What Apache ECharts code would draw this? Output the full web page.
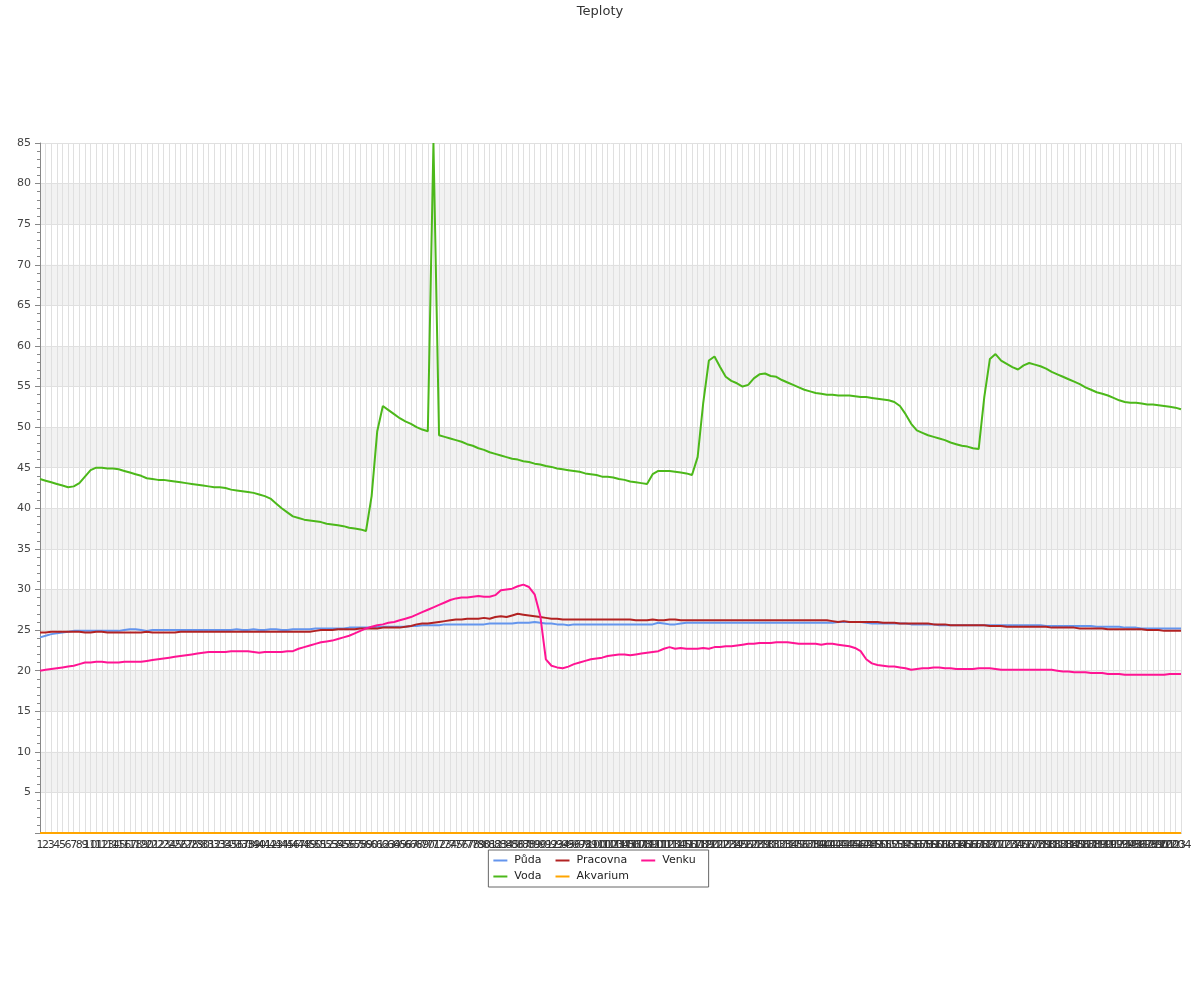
<!DOCTYPE html>
<html>
<head>
<meta charset="utf-8">
<script src="https://cdn.jsdelivr.net/npm/echarts@6/dist/echarts.min.js"></script>
<style>html,body{margin:0;padding:0;background:#fff}#c{width:1200px;height:1000px}</style>
</head>
<body>
<div id="c"></div>
<script>
// x categories 1..204
const categories = [];
for (let i = 1; i <= 204; i++) categories.push(String(i));

const seriesNames = ['Půda', 'Pracovna', 'Venku', 'Voda', 'Akvarium'];

const puda = [
24.1,24.3,24.5,24.6,24.7,24.8,24.9,24.9,24.9,24.9,
24.9,24.9,24.9,24.9,24.9,25.0,25.1,25.1,25.0,24.9,
25.0,25.0,25.0,25.0,25.0,25.0,25.0,25.0,25.0,25.0,
25.0,25.0,25.0,25.0,25.0,25.1,25.0,25.0,25.1,25.0,
25.0,25.1,25.1,25.0,25.0,25.1,25.1,25.1,25.1,25.2,
25.2,25.2,25.2,25.2,25.2,25.3,25.3,25.3,25.3,25.3,
25.4,25.4,25.4,25.4,25.4,25.4,25.5,25.5,25.6,25.6,
25.6,25.6,25.7,25.7,25.7,25.7,25.7,25.7,25.7,25.7,
25.8,25.8,25.8,25.8,25.8,25.9,25.9,25.9,26.0,25.9,
25.8,25.8,25.7,25.7,25.6,25.7,25.7,25.7,25.7,25.7,
25.7,25.7,25.7,25.7,25.7,25.7,25.7,25.7,25.7,25.7,
25.9,25.8,25.7,25.7,25.8,25.9,25.9,25.9,25.9,25.9,
25.9,25.9,25.9,25.9,25.9,25.9,25.9,25.9,25.9,25.9,
25.9,25.9,25.9,25.9,25.9,25.9,25.9,25.9,25.9,25.9,
25.9,25.9,26.0,26.0,26.0,26.0,26.0,25.9,25.8,25.8,
25.8,25.8,25.8,25.8,25.8,25.7,25.7,25.7,25.7,25.7,
25.6,25.6,25.6,25.6,25.6,25.6,25.6,25.6,25.6,25.6,
25.6,25.6,25.6,25.6,25.6,25.6,25.6,25.6,25.6,25.5,
25.5,25.5,25.5,25.5,25.5,25.5,25.5,25.5,25.4,25.4,
25.4,25.4,25.4,25.3,25.3,25.3,25.2,25.2,25.2,25.2,
25.2,25.2,25.2,25.2
];

const pracovna = [
24.7,24.7,24.8,24.8,24.8,24.8,24.8,24.8,24.7,24.7,
24.8,24.8,24.7,24.7,24.7,24.7,24.7,24.7,24.7,24.8,
24.7,24.7,24.7,24.7,24.7,24.8,24.8,24.8,24.8,24.8,
24.8,24.8,24.8,24.8,24.8,24.8,24.8,24.8,24.8,24.8,
24.8,24.8,24.8,24.8,24.8,24.8,24.8,24.8,24.8,24.9,
25.0,25.0,25.0,25.1,25.1,25.1,25.1,25.2,25.2,25.2,
25.2,25.3,25.3,25.3,25.3,25.4,25.5,25.7,25.8,25.8,
25.9,26.0,26.1,26.2,26.3,26.3,26.4,26.4,26.4,26.5,
26.4,26.6,26.7,26.6,26.8,27.0,26.9,26.8,26.7,26.6,
26.5,26.4,26.4,26.3,26.3,26.3,26.3,26.3,26.3,26.3,
26.3,26.3,26.3,26.3,26.3,26.3,26.2,26.2,26.2,26.3,
26.2,26.2,26.3,26.3,26.2,26.2,26.2,26.2,26.2,26.2,
26.2,26.2,26.2,26.2,26.2,26.2,26.2,26.2,26.2,26.2,
26.2,26.2,26.2,26.2,26.2,26.2,26.2,26.2,26.2,26.2,
26.2,26.1,26.0,26.1,26.0,26.0,26.0,26.0,26.0,26.0,
25.9,25.9,25.9,25.8,25.8,25.8,25.8,25.8,25.8,25.7,
25.7,25.7,25.6,25.6,25.6,25.6,25.6,25.6,25.6,25.5,
25.5,25.5,25.4,25.4,25.4,25.4,25.4,25.4,25.4,25.4,
25.3,25.3,25.3,25.3,25.3,25.2,25.2,25.2,25.2,25.2,
25.1,25.1,25.1,25.1,25.1,25.1,25.1,25.0,25.0,25.0,
24.9,24.9,24.9,24.9
];

const venku = [
20.0,20.1,20.2,20.3,20.4,20.5,20.6,20.8,21.0,21.0,
21.1,21.1,21.0,21.0,21.0,21.1,21.1,21.1,21.1,21.2,
21.3,21.4,21.5,21.6,21.7,21.8,21.9,22.0,22.1,22.2,
22.3,22.3,22.3,22.3,22.4,22.4,22.4,22.4,22.3,22.2,
22.3,22.3,22.3,22.3,22.4,22.4,22.7,22.9,23.1,23.3,
23.5,23.6,23.7,23.9,24.1,24.3,24.6,24.9,25.2,25.4,
25.6,25.7,25.9,26.0,26.2,26.4,26.6,26.9,27.2,27.5,
27.8,28.1,28.4,28.7,28.9,29.0,29.0,29.1,29.2,29.1,
29.1,29.3,29.9,30.0,30.1,30.4,30.6,30.3,29.4,26.8,
21.4,20.6,20.4,20.3,20.5,20.8,21.0,21.2,21.4,21.5,
21.6,21.8,21.9,22.0,22.0,21.9,22.0,22.1,22.2,22.3,
22.4,22.7,22.9,22.7,22.8,22.7,22.7,22.7,22.8,22.7,
22.9,22.9,23.0,23.0,23.1,23.2,23.3,23.3,23.4,23.4,
23.4,23.5,23.5,23.5,23.4,23.3,23.3,23.3,23.3,23.2,
23.3,23.3,23.2,23.1,23.0,22.8,22.4,21.4,20.9,20.7,
20.6,20.5,20.5,20.4,20.3,20.1,20.2,20.3,20.3,20.4,
20.4,20.3,20.3,20.2,20.2,20.2,20.2,20.3,20.3,20.3,
20.2,20.1,20.1,20.1,20.1,20.1,20.1,20.1,20.1,20.1,
20.1,20.0,19.9,19.9,19.8,19.8,19.8,19.7,19.7,19.7,
19.6,19.6,19.6,19.5,19.5,19.5,19.5,19.5,19.5,19.5,
19.5,19.6,19.6,19.6
];

const voda = [
43.6,43.4,43.2,43.0,42.8,42.6,42.7,43.1,43.9,44.7,
45.0,45.0,44.9,44.9,44.8,44.6,44.4,44.2,44.0,43.7,
43.6,43.5,43.5,43.4,43.3,43.2,43.1,43.0,42.9,42.8,
42.7,42.6,42.6,42.5,42.3,42.2,42.1,42.0,41.9,41.7,
41.5,41.2,40.6,40.0,39.5,39.0,38.8,38.6,38.5,38.4,
38.3,38.1,38.0,37.9,37.8,37.6,37.5,37.4,37.2,41.5,
49.5,52.6,52.1,51.6,51.1,50.7,50.4,50.0,49.7,49.5,
85.0,49.0,48.8,48.6,48.4,48.2,47.9,47.7,47.4,47.2,
46.9,46.7,46.5,46.3,46.1,46.0,45.8,45.7,45.5,45.4,
45.2,45.1,44.9,44.8,44.7,44.6,44.5,44.3,44.2,44.1,
43.9,43.9,43.8,43.6,43.5,43.3,43.2,43.1,43.0,44.2,
44.6,44.6,44.6,44.5,44.4,44.3,44.1,46.3,53.0,58.2,
58.7,57.4,56.2,55.7,55.4,55.0,55.2,56.0,56.5,56.6,
56.3,56.2,55.8,55.5,55.2,54.9,54.6,54.4,54.2,54.1,
54.0,54.0,53.9,53.9,53.9,53.8,53.7,53.7,53.6,53.5,
53.4,53.3,53.1,52.6,51.6,50.4,49.6,49.3,49.0,48.8,
48.6,48.4,48.1,47.9,47.7,47.6,47.4,47.3,53.7,58.4,
59.0,58.2,57.8,57.4,57.1,57.6,57.9,57.7,57.5,57.2,
56.8,56.5,56.2,55.9,55.6,55.3,54.9,54.6,54.3,54.1,
53.9,53.6,53.3,53.1,53.0,53.0,52.9,52.8,52.8,52.7,
52.6,52.5,52.4,52.2
];

const akvarium = [
0,0,0,0,0,0,0,0,0,0,0,0,0,0,0,0,0,0,0,0,
0,0,0,0,0,0,0,0,0,0,0,0,0,0,0,0,0,0,0,0,
0,0,0,0,0,0,0,0,0,0,0,0,0,0,0,0,0,0,0,0,
0,0,0,0,0,0,0,0,0,0,0,0,0,0,0,0,0,0,0,0,
0,0,0,0,0,0,0,0,0,0,0,0,0,0,0,0,0,0,0,0,
0,0,0,0,0,0,0,0,0,0,0,0,0,0,0,0,0,0,0,0,
0,0,0,0,0,0,0,0,0,0,0,0,0,0,0,0,0,0,0,0,
0,0,0,0,0,0,0,0,0,0,0,0,0,0,0,0,0,0,0,0,
0,0,0,0,0,0,0,0,0,0,0,0,0,0,0,0,0,0,0,0,
0,0,0,0,0,0,0,0,0,0,0,0,0,0,0,0,0,0,0,0,
0,0,0,0
];

const colors = ['#6495ed', '#b22222', '#ff1493', '#4cb81a', '#ffa500'];
const dataList = [puda, pracovna, venku, voda, akvarium];

const FONT = 'DejaVu Sans';
const chart = echarts.init(document.getElementById('c'), null, {renderer: 'canvas'});
chart.setOption({
  animation: false,
  backgroundColor: '#ffffff',
  textStyle: {fontFamily: FONT},
  title: {
    text: 'Teploty', left: 'center', top: 0,
    textStyle: {fontFamily: FONT, fontSize: 13, fontWeight: 'normal', color: '#333'}
  },
  legend: {
    data: seriesNames,
    left: 'center', top: 850,
    width: 215,
    orient: 'horizontal',
    icon: 'rect', itemWidth: 14, itemHeight: 2,
    itemGap: 3,
    padding: [4, 2, 4, 5],
    borderColor: '#666', borderWidth: 1, borderRadius: 0,
    backgroundColor: '#fff',
    textStyle: {fontFamily: FONT, fontSize: 11, color: '#222', padding: [0, 11, 0, 2], lineHeight: 13}
  },
  grid: {left: 40, right: 19, top: 143, bottom: 167, containLabel: false},
  xAxis: {
    type: 'category', data: categories, boundaryGap: false,
    axisLine: {lineStyle: {color: '#888'}},
    axisTick: {show: false},
    axisLabel: {interval: 0, fontFamily: FONT, fontSize: 11, color: '#333', margin: 7, hideOverlap: false},
    splitLine: {show: true, interval: 0, lineStyle: {color: '#e0e0e0', width: 1}}
  },
  yAxis: {
    type: 'value', min: 0, max: 85, interval: 5,
    axisLine: {show: true, lineStyle: {color: '#888'}},
    axisTick: {show: true, length: 5, lineStyle: {color: '#888'}},
    minorTick: {show: true, splitNumber: 5, length: 3, lineStyle: {color: '#888'}},
    axisLabel: {fontFamily: FONT, fontSize: 11, color: '#444', margin: 9, showMinLabel: false,
      formatter: function (v) { return v === 0 ? '' : String(v); }},
    splitLine: {show: true, lineStyle: {color: '#e0e0e0', width: 1}},
    splitArea: {show: true, areaStyle: {color: ['rgba(255,255,255,0)', '#f2f2f2']}}
  },
  series: seriesNames.map(function (name, k) {
    return {
      name: name, type: 'line', data: dataList[k],
      symbol: 'none', showSymbol: false,
      lineStyle: {color: colors[k], width: 2},
      itemStyle: {color: colors[k]},
      z: 3 + k
    };
  })
});
</script>
</body>
</html>
